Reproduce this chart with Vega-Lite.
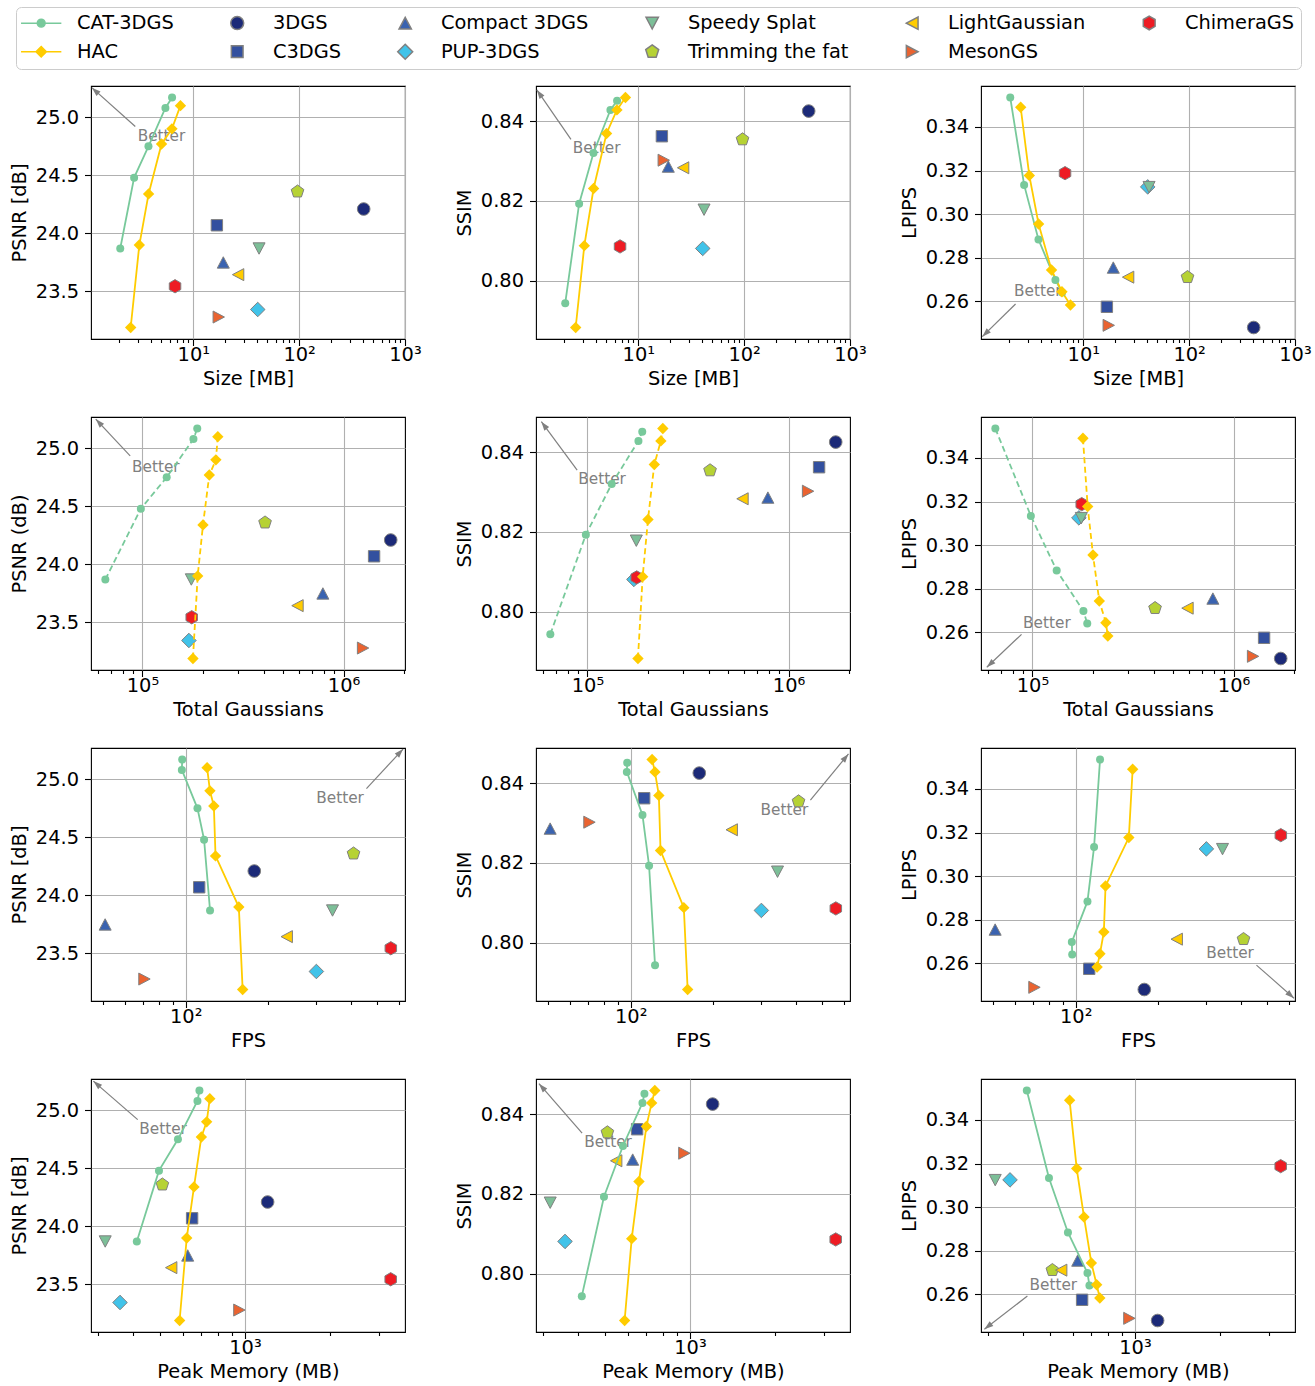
{
"$schema": "https://vega.github.io/schema/vega-lite/v6.json",
"background": "white",
"padding": {"left": 8, "top": 6, "right": 5, "bottom": 2},
"config": {
 "font": "DejaVu Sans",
 "view": {"stroke": "#000000", "strokeWidth": 1.1},
 "axis": {"labelFont": "DejaVu Sans", "labelFontSize": 19.4, "labelColor": "#000000", "titleFont": "DejaVu Sans", "titleFontSize": 19.4, "titleFontWeight": "normal", "titleColor": "#000000", "tickColor": "#000000", "tickWidth": 1.1, "tickSize": 6.5, "labelPadding": 4.9, "domain": false, "grid": true, "gridColor": "#b0b0b0", "gridWidth": 1.1, "labelFlush": false, "labelOverlap": false, "titlePadding": 6},
 "axisX": {"labelPadding": 0},
 "axisY": {"labelPadding": 6}
},
"datasets": {
 "main": [
  {"method": "CAT-3DGS", "k": 1, "size": 2.04, "gs": 65400, "fps": 122.7, "mem": 413, "psnr": 23.87, "ssim": 0.7944, "lpips": 0.3535},
  {"method": "CAT-3DGS", "k": 2, "size": 2.76, "gs": 98200, "fps": 116.7, "mem": 495, "psnr": 24.48, "ssim": 0.8193, "lpips": 0.3134},
  {"method": "CAT-3DGS", "k": 3, "size": 3.77, "gs": 132000, "fps": 110.4, "mem": 578, "psnr": 24.75, "ssim": 0.8320, "lpips": 0.2884},
  {"method": "CAT-3DGS", "k": 4, "size": 5.45, "gs": 179300, "fps": 96.8, "mem": 678, "psnr": 25.08, "ssim": 0.8428, "lpips": 0.2698},
  {"method": "CAT-3DGS", "k": 5, "size": 6.30, "gs": 187300, "fps": 97.1, "mem": 689, "psnr": 25.17, "ssim": 0.8451, "lpips": 0.2641},
  {"method": "HAC", "k": 1, "size": 2.56, "gs": 178300, "fps": 161.4, "mem": 586, "psnr": 23.19, "ssim": 0.7883, "lpips": 0.3490},
  {"method": "HAC", "k": 2, "size": 3.09, "gs": 188200, "fps": 156.3, "mem": 621, "psnr": 23.90, "ssim": 0.8088, "lpips": 0.3177},
  {"method": "HAC", "k": 3, "size": 3.78, "gs": 200000, "fps": 128.5, "mem": 659, "psnr": 24.34, "ssim": 0.8231, "lpips": 0.2955},
  {"method": "HAC", "k": 4, "size": 5.01, "gs": 215000, "fps": 126.7, "mem": 700, "psnr": 24.77, "ssim": 0.8369, "lpips": 0.2744},
  {"method": "HAC", "k": 5, "size": 6.28, "gs": 231800, "fps": 122.6, "mem": 731, "psnr": 24.90, "ssim": 0.8428, "lpips": 0.2644},
  {"method": "HAC", "k": 6, "size": 7.56, "gs": 237000, "fps": 119.7, "mem": 750, "psnr": 25.10, "ssim": 0.8459, "lpips": 0.2583},
  {"method": "3DGS", "size": 407, "gs": 1715000, "fps": 178, "mem": 1203, "psnr": 24.21, "ssim": 0.8425, "lpips": 0.2480},
  {"method": "C3DGS", "size": 16.7, "gs": 1418000, "fps": 112, "mem": 649, "psnr": 24.07, "ssim": 0.8362, "lpips": 0.2575},
  {"method": "Compact 3DGS", "size": 19.2, "gs": 789000, "fps": 50.8, "mem": 626, "psnr": 23.75, "ssim": 0.8286, "lpips": 0.2755},
  {"method": "PUP-3DGS", "size": 40.6, "gs": 170200, "fps": 300, "mem": 360, "psnr": 23.345, "ssim": 0.8081, "lpips": 0.3125},
  {"method": "Speedy Splat", "size": 41.8, "gs": 175000, "fps": 343.6, "mem": 319, "psnr": 23.87, "ssim": 0.8178, "lpips": 0.3124},
  {"method": "Trimming the fat", "size": 96.5, "gs": 407000, "fps": 410, "mem": 509, "psnr": 24.36, "ssim": 0.8354, "lpips": 0.2711},
  {"method": "LightGaussian", "size": 26.5, "gs": 590000, "fps": 233.8, "mem": 547, "psnr": 23.645, "ssim": 0.8283, "lpips": 0.2711},
  {"method": "MesonGS", "size": 17.4, "gs": 1250000, "fps": 70.7, "mem": 955, "psnr": 23.28, "ssim": 0.8302, "lpips": 0.2490},
  {"method": "ChimeraGS", "size": 6.72, "gs": 175800, "fps": 561, "mem": 3290, "psnr": 23.545, "ssim": 0.8086, "lpips": 0.3188}
 ],
 "notes": [
  {"p": "r1c1", "part": "head", "size": 1.1, "psnr": 25.255},
  {"p": "r1c1", "part": "tail", "size": 2.83, "psnr": 24.92},
  {"p": "r1c1", "part": "text", "size": 5.0, "psnr": 24.84, "label": "Better"},
  {"p": "r1c2", "part": "head", "size": 1.1, "ssim": 0.8478},
  {"p": "r1c2", "part": "tail", "size": 2.31, "ssim": 0.8354},
  {"p": "r1c2", "part": "text", "size": 4.04, "ssim": 0.8333, "label": "Better"},
  {"p": "r1c3", "part": "head", "size": 1.11, "lpips": 0.2438},
  {"p": "r1c3", "part": "tail", "size": 2.29, "lpips": 0.2588},
  {"p": "r1c3", "part": "text", "size": 3.72, "lpips": 0.2647, "label": "Better"},
  {"p": "r2c1", "part": "head", "gs": 58600, "psnr": 25.251},
  {"p": "r2c1", "part": "tail", "gs": 86900, "psnr": 24.934},
  {"p": "r2c1", "part": "text", "gs": 116500, "psnr": 24.84, "label": "Better"},
  {"p": "r2c2", "part": "head", "gs": 59000, "ssim": 0.8476},
  {"p": "r2c2", "part": "tail", "gs": 88900, "ssim": 0.8355},
  {"p": "r2c2", "part": "text", "gs": 118200, "ssim": 0.8333, "label": "Better"},
  {"p": "r2c3", "part": "head", "gs": 59300, "lpips": 0.244},
  {"p": "r2c3", "part": "tail", "gs": 88300, "lpips": 0.2591},
  {"p": "r2c3", "part": "text", "gs": 118000, "lpips": 0.2644, "label": "Better"},
  {"p": "r3c1", "part": "head", "fps": 622, "psnr": 25.26},
  {"p": "r3c1", "part": "tail", "fps": 457, "psnr": 24.919},
  {"p": "r3c1", "part": "text", "fps": 366, "psnr": 24.841, "label": "Better"},
  {"p": "r3c2", "part": "head", "fps": 624, "ssim": 0.8473},
  {"p": "r3c2", "part": "tail", "fps": 453, "ssim": 0.8357},
  {"p": "r3c2", "part": "text", "fps": 364, "ssim": 0.8333, "label": "Better"},
  {"p": "r3c3", "part": "head", "fps": 627, "lpips": 0.244},
  {"p": "r3c3", "part": "tail", "fps": 457, "lpips": 0.2592},
  {"p": "r3c3", "part": "text", "fps": 366, "lpips": 0.2646, "label": "Better"},
  {"p": "r4c1", "part": "head", "mem": 289.5, "psnr": 25.251},
  {"p": "r4c1", "part": "tail", "mem": 416, "psnr": 24.919},
  {"p": "r4c1", "part": "text", "mem": 512, "psnr": 24.841, "label": "Better"},
  {"p": "r4c2", "part": "head", "mem": 291, "ssim": 0.8476},
  {"p": "r4c2", "part": "tail", "mem": 414, "ssim": 0.8352},
  {"p": "r4c2", "part": "text", "mem": 512, "ssim": 0.8331, "label": "Better"},
  {"p": "r4c3", "part": "head", "mem": 292, "lpips": 0.244},
  {"p": "r4c3", "part": "tail", "mem": 415, "lpips": 0.2592},
  {"p": "r4c3", "part": "text", "mem": 513, "lpips": 0.2644, "label": "Better"}
 ]
},
"columns": 3,
"spacing": {"row": 78, "column": 131},
"bounds": "flush",
"resolve": {"scale": {"x": "independent", "y": "independent", "color": "shared", "shape": "shared", "stroke": "shared"}},
"concat": [
 {"width": 314, "height": 253,
  "encoding": {
   "x": {"field": "size", "type": "quantitative", "scale": {"type": "log", "domain": [1.08, 1000], "nice": false}, "axis": {"title": "Size [MB]", "values": [2,3,4,5,6,7,8,9,10,20,30,40,50,60,70,80,90,100,200,300,400,500,600,700,800,900,1000], "labelExpr": "datum.value == 10 ? '10¹' : datum.value == 100 ? '10²' : datum.value == 1000 ? '10³' : ''", "tickSize": {"condition": {"test": "abs(log(datum.value)/LN10 - round(log(datum.value)/LN10)) < 0.001", "value": 6.5}, "value": 3.5}, "gridOpacity": {"condition": {"test": "abs(log(datum.value)/LN10 - round(log(datum.value)/LN10)) < 0.001", "value": 1}, "value": 0}}},
   "y": {"field": "psnr", "type": "quantitative", "scale": {"domain": [23.091, 25.269], "nice": false, "zero": false}, "axis": {"values": [23.5, 24, 24.5, 25], "format": ".1f", "title": "PSNR [dB]"}}
  },
  "layer": [
   {"data": {"name": "notes"}, "transform": [{"filter": "datum.p == 'r1c1' && datum.part != 'text'"}], "mark": {"type": "line", "color": "#808080", "strokeWidth": 1.2}, "encoding": {}},
   {"data": {"name": "notes"}, "transform": [{"filter": "datum.p == 'r1c1' && datum.part == 'head'"}], "mark": {"type": "point", "shape": "M0,0L-0.75,2.25L0.75,2.25Z", "size": 64, "filled": true, "color": "#808080", "opacity": 1, "angle": -48}},
   {"data": {"name": "notes"}, "transform": [{"filter": "datum.p == 'r1c1' && datum.part == 'text'"}], "mark": {"type": "text", "font": "DejaVu Sans", "fontSize": 15.3, "color": "#808080"}, "encoding": {"text": {"field": "label"}}},
   {"data": {"name": "main"}, "transform": [{"filter": "datum.method != 'CAT-3DGS' && datum.method != 'HAC'"}], "mark": {"type": "point", "filled": true, "size": 160, "strokeWidth": 1, "opacity": 1},
    "encoding": {
     "color": {"field": "method", "type": "nominal", "scale": {"domain": ["CAT-3DGS","HAC","3DGS","C3DGS","Compact 3DGS","PUP-3DGS","Speedy Splat","Trimming the fat","LightGaussian","MesonGS","ChimeraGS"], "range": ["#78c99b","#ffcc00","#1c2a78","#33509f","#3a63b0","#41c3e9","#7cbf98","#b6d234","#ffcc00","#ea6330","#ee1c24"]},
      "legend": {"title": null, "orient": "none", "legendX": -75, "legendY": -79, "columns": 6, "symbolSize": 169, "symbolOffset": 9.5, "labelOffset": 26, "columnPadding": 44, "rowPadding": 8, "padding": 6, "labelFont": "DejaVu Sans", "labelFontSize": 19.4, "labelColor": "#000000", "labelLimit": 300, "strokeColor": "#cccccc", "cornerRadius": 5, "fillColor": "#ffffff", "encode": {"symbols": {"update": {"strokeWidth": {"signal": "(datum.value == 'CAT-3DGS' || datum.value == 'HAC') ? 2 : 1"}, "opacity": {"value": 1}}}}}},
     "shape": {"field": "method", "type": "nominal", "scale": {"domain": ["CAT-3DGS","HAC","3DGS","C3DGS","Compact 3DGS","PUP-3DGS","Speedy Splat","Trimming the fat","LightGaussian","MesonGS","ChimeraGS"], "range": ["M-3.1,0L3.1,0M-0.6,0A0.6,0.6,0,1,0,0.6,0A0.6,0.6,0,1,0,-0.6,0Z","M-3.1,0L3.1,0M0,-0.8L0.8,0L0,0.8L-0.8,0Z","circle","M-0.9,-0.9L0.9,-0.9L0.9,0.9L-0.9,0.9Z","M0,-0.9L0.95,0.9L-0.95,0.9Z","M0,-1.15L1.15,0L0,1.15L-1.15,0Z","M0,0.9L0.95,-0.9L-0.95,-0.9Z","M0,-1.05L0.999,-0.324L0.617,0.849L-0.617,0.849L-0.999,-0.324Z","M-0.9,0L0.9,-0.95L0.9,0.95Z","M0.9,0L-0.9,-0.95L-0.9,0.95Z","M0,-1.05L0.909,-0.525L0.909,0.525L0,1.05L-0.909,0.525L-0.909,-0.525Z"]}, "legend": {"title": null}},
     "stroke": {"field": "method", "type": "nominal", "scale": {"domain": ["CAT-3DGS","HAC","3DGS","C3DGS","Compact 3DGS","PUP-3DGS","Speedy Splat","Trimming the fat","LightGaussian","MesonGS","ChimeraGS"], "range": ["#78c99b","#ffcc00","#808080","#808080","#808080","#808080","#808080","#808080","#808080","#808080","#808080"]}, "legend": {"title": null}}
    }},
   {"data": {"name": "main"}, "transform": [{"filter": "datum.method == 'CAT-3DGS'"}], "mark": {"type": "line", "color": "#78c99b", "strokeWidth": 1.8}, "encoding": {"order": {"field": "k", "type": "quantitative"}}},
   {"data": {"name": "main"}, "transform": [{"filter": "datum.method == 'HAC'"}], "mark": {"type": "line", "color": "#ffcc00", "strokeWidth": 1.8}, "encoding": {"order": {"field": "k", "type": "quantitative"}}},
   {"data": {"name": "main"}, "transform": [{"filter": "datum.method == 'CAT-3DGS'"}], "mark": {"type": "point", "shape": "circle", "filled": true, "size": 64, "color": "#78c99b", "opacity": 1}},
   {"data": {"name": "main"}, "transform": [{"filter": "datum.method == 'HAC'"}], "mark": {"type": "point", "shape": "diamond", "filled": true, "size": 130, "color": "#ffcc00", "opacity": 1}}
  ]},
 {"width": 314, "height": 253,
  "encoding": {
   "x": {"field": "size", "type": "quantitative", "scale": {"type": "log", "domain": [1.08, 1000], "nice": false}, "axis": {"title": "Size [MB]", "values": [2,3,4,5,6,7,8,9,10,20,30,40,50,60,70,80,90,100,200,300,400,500,600,700,800,900,1000], "labelExpr": "datum.value == 10 ? '10¹' : datum.value == 100 ? '10²' : datum.value == 1000 ? '10³' : ''", "tickSize": {"condition": {"test": "abs(log(datum.value)/LN10 - round(log(datum.value)/LN10)) < 0.001", "value": 6.5}, "value": 3.5}, "gridOpacity": {"condition": {"test": "abs(log(datum.value)/LN10 - round(log(datum.value)/LN10)) < 0.001", "value": 1}, "value": 0}}},
   "y": {"field": "ssim", "type": "quantitative", "scale": {"domain": [0.78542, 0.84878], "nice": false, "zero": false}, "axis": {"values": [0.80, 0.82, 0.84], "format": ".2f", "title": "SSIM"}}
  },
  "layer": [
   {"data": {"name": "notes"}, "transform": [{"filter": "datum.p == 'r1c2' && datum.part != 'text'"}], "mark": {"type": "line", "color": "#808080", "strokeWidth": 1.2}, "encoding": {}},
   {"data": {"name": "notes"}, "transform": [{"filter": "datum.p == 'r1c2' && datum.part == 'head'"}], "mark": {"type": "point", "shape": "M0,0L-0.75,2.25L0.75,2.25Z", "size": 64, "filled": true, "color": "#808080", "opacity": 1, "angle": -35}},
   {"data": {"name": "notes"}, "transform": [{"filter": "datum.p == 'r1c2' && datum.part == 'text'"}], "mark": {"type": "text", "font": "DejaVu Sans", "fontSize": 15.3, "color": "#808080"}, "encoding": {"text": {"field": "label"}}},
   {"data": {"name": "main"}, "transform": [{"filter": "datum.method != 'CAT-3DGS' && datum.method != 'HAC'"}], "mark": {"type": "point", "filled": true, "size": 160, "strokeWidth": 1, "opacity": 1},
    "encoding": {
     "color": {"field": "method", "type": "nominal", "scale": {"domain": ["CAT-3DGS","HAC","3DGS","C3DGS","Compact 3DGS","PUP-3DGS","Speedy Splat","Trimming the fat","LightGaussian","MesonGS","ChimeraGS"], "range": ["#78c99b","#ffcc00","#1c2a78","#33509f","#3a63b0","#41c3e9","#7cbf98","#b6d234","#ffcc00","#ea6330","#ee1c24"]},
      "legend": {"title": null, "orient": "none", "legendX": -75, "legendY": -79, "columns": 6, "symbolSize": 169, "symbolOffset": 9.5, "labelOffset": 26, "columnPadding": 44, "rowPadding": 8, "padding": 6, "labelFont": "DejaVu Sans", "labelFontSize": 19.4, "labelColor": "#000000", "labelLimit": 300, "strokeColor": "#cccccc", "cornerRadius": 5, "fillColor": "#ffffff", "encode": {"symbols": {"update": {"strokeWidth": {"signal": "(datum.value == 'CAT-3DGS' || datum.value == 'HAC') ? 2 : 1"}, "opacity": {"value": 1}}}}}},
     "shape": {"field": "method", "type": "nominal", "scale": {"domain": ["CAT-3DGS","HAC","3DGS","C3DGS","Compact 3DGS","PUP-3DGS","Speedy Splat","Trimming the fat","LightGaussian","MesonGS","ChimeraGS"], "range": ["M-3.1,0L3.1,0M-0.6,0A0.6,0.6,0,1,0,0.6,0A0.6,0.6,0,1,0,-0.6,0Z","M-3.1,0L3.1,0M0,-0.8L0.8,0L0,0.8L-0.8,0Z","circle","M-0.9,-0.9L0.9,-0.9L0.9,0.9L-0.9,0.9Z","M0,-0.9L0.95,0.9L-0.95,0.9Z","M0,-1.15L1.15,0L0,1.15L-1.15,0Z","M0,0.9L0.95,-0.9L-0.95,-0.9Z","M0,-1.05L0.999,-0.324L0.617,0.849L-0.617,0.849L-0.999,-0.324Z","M-0.9,0L0.9,-0.95L0.9,0.95Z","M0.9,0L-0.9,-0.95L-0.9,0.95Z","M0,-1.05L0.909,-0.525L0.909,0.525L0,1.05L-0.909,0.525L-0.909,-0.525Z"]}, "legend": {"title": null}},
     "stroke": {"field": "method", "type": "nominal", "scale": {"domain": ["CAT-3DGS","HAC","3DGS","C3DGS","Compact 3DGS","PUP-3DGS","Speedy Splat","Trimming the fat","LightGaussian","MesonGS","ChimeraGS"], "range": ["#78c99b","#ffcc00","#808080","#808080","#808080","#808080","#808080","#808080","#808080","#808080","#808080"]}, "legend": {"title": null}}
    }},
   {"data": {"name": "main"}, "transform": [{"filter": "datum.method == 'CAT-3DGS'"}], "mark": {"type": "line", "color": "#78c99b", "strokeWidth": 1.8}, "encoding": {"order": {"field": "k", "type": "quantitative"}}},
   {"data": {"name": "main"}, "transform": [{"filter": "datum.method == 'HAC'"}], "mark": {"type": "line", "color": "#ffcc00", "strokeWidth": 1.8}, "encoding": {"order": {"field": "k", "type": "quantitative"}}},
   {"data": {"name": "main"}, "transform": [{"filter": "datum.method == 'CAT-3DGS'"}], "mark": {"type": "point", "shape": "circle", "filled": true, "size": 64, "color": "#78c99b", "opacity": 1}},
   {"data": {"name": "main"}, "transform": [{"filter": "datum.method == 'HAC'"}], "mark": {"type": "point", "shape": "diamond", "filled": true, "size": 130, "color": "#ffcc00", "opacity": 1}}
  ]},
 {"width": 314, "height": 253,
  "encoding": {
   "x": {"field": "size", "type": "quantitative", "scale": {"type": "log", "domain": [1.08, 1000], "nice": false}, "axis": {"title": "Size [MB]", "values": [2,3,4,5,6,7,8,9,10,20,30,40,50,60,70,80,90,100,200,300,400,500,600,700,800,900,1000], "labelExpr": "datum.value == 10 ? '10¹' : datum.value == 100 ? '10²' : datum.value == 1000 ? '10³' : ''", "tickSize": {"condition": {"test": "abs(log(datum.value)/LN10 - round(log(datum.value)/LN10)) < 0.001", "value": 6.5}, "value": 3.5}, "gridOpacity": {"condition": {"test": "abs(log(datum.value)/LN10 - round(log(datum.value)/LN10)) < 0.001", "value": 1}, "value": 0}}},
   "y": {"field": "lpips", "type": "quantitative", "scale": {"domain": [0.24273, 0.35878], "nice": false, "zero": false}, "axis": {"values": [0.26, 0.28, 0.30, 0.32, 0.34], "format": ".2f", "title": "LPIPS"}}
  },
  "layer": [
   {"data": {"name": "notes"}, "transform": [{"filter": "datum.p == 'r1c3' && datum.part != 'text'"}], "mark": {"type": "line", "color": "#808080", "strokeWidth": 1.2}, "encoding": {}},
   {"data": {"name": "notes"}, "transform": [{"filter": "datum.p == 'r1c3' && datum.part == 'head'"}], "mark": {"type": "point", "shape": "M0,0L-0.75,2.25L0.75,2.25Z", "size": 64, "filled": true, "color": "#808080", "opacity": 1, "angle": 226}},
   {"data": {"name": "notes"}, "transform": [{"filter": "datum.p == 'r1c3' && datum.part == 'text'"}], "mark": {"type": "text", "font": "DejaVu Sans", "fontSize": 15.3, "color": "#808080"}, "encoding": {"text": {"field": "label"}}},
   {"data": {"name": "main"}, "transform": [{"filter": "datum.method != 'CAT-3DGS' && datum.method != 'HAC'"}], "mark": {"type": "point", "filled": true, "size": 160, "strokeWidth": 1, "opacity": 1},
    "encoding": {
     "color": {"field": "method", "type": "nominal", "scale": {"domain": ["CAT-3DGS","HAC","3DGS","C3DGS","Compact 3DGS","PUP-3DGS","Speedy Splat","Trimming the fat","LightGaussian","MesonGS","ChimeraGS"], "range": ["#78c99b","#ffcc00","#1c2a78","#33509f","#3a63b0","#41c3e9","#7cbf98","#b6d234","#ffcc00","#ea6330","#ee1c24"]},
      "legend": {"title": null, "orient": "none", "legendX": -75, "legendY": -79, "columns": 6, "symbolSize": 169, "symbolOffset": 9.5, "labelOffset": 26, "columnPadding": 44, "rowPadding": 8, "padding": 6, "labelFont": "DejaVu Sans", "labelFontSize": 19.4, "labelColor": "#000000", "labelLimit": 300, "strokeColor": "#cccccc", "cornerRadius": 5, "fillColor": "#ffffff", "encode": {"symbols": {"update": {"strokeWidth": {"signal": "(datum.value == 'CAT-3DGS' || datum.value == 'HAC') ? 2 : 1"}, "opacity": {"value": 1}}}}}},
     "shape": {"field": "method", "type": "nominal", "scale": {"domain": ["CAT-3DGS","HAC","3DGS","C3DGS","Compact 3DGS","PUP-3DGS","Speedy Splat","Trimming the fat","LightGaussian","MesonGS","ChimeraGS"], "range": ["M-3.1,0L3.1,0M-0.6,0A0.6,0.6,0,1,0,0.6,0A0.6,0.6,0,1,0,-0.6,0Z","M-3.1,0L3.1,0M0,-0.8L0.8,0L0,0.8L-0.8,0Z","circle","M-0.9,-0.9L0.9,-0.9L0.9,0.9L-0.9,0.9Z","M0,-0.9L0.95,0.9L-0.95,0.9Z","M0,-1.15L1.15,0L0,1.15L-1.15,0Z","M0,0.9L0.95,-0.9L-0.95,-0.9Z","M0,-1.05L0.999,-0.324L0.617,0.849L-0.617,0.849L-0.999,-0.324Z","M-0.9,0L0.9,-0.95L0.9,0.95Z","M0.9,0L-0.9,-0.95L-0.9,0.95Z","M0,-1.05L0.909,-0.525L0.909,0.525L0,1.05L-0.909,0.525L-0.909,-0.525Z"]}, "legend": {"title": null}},
     "stroke": {"field": "method", "type": "nominal", "scale": {"domain": ["CAT-3DGS","HAC","3DGS","C3DGS","Compact 3DGS","PUP-3DGS","Speedy Splat","Trimming the fat","LightGaussian","MesonGS","ChimeraGS"], "range": ["#78c99b","#ffcc00","#808080","#808080","#808080","#808080","#808080","#808080","#808080","#808080","#808080"]}, "legend": {"title": null}}
    }},
   {"data": {"name": "main"}, "transform": [{"filter": "datum.method == 'CAT-3DGS'"}], "mark": {"type": "line", "color": "#78c99b", "strokeWidth": 1.8}, "encoding": {"order": {"field": "k", "type": "quantitative"}}},
   {"data": {"name": "main"}, "transform": [{"filter": "datum.method == 'HAC'"}], "mark": {"type": "line", "color": "#ffcc00", "strokeWidth": 1.8}, "encoding": {"order": {"field": "k", "type": "quantitative"}}},
   {"data": {"name": "main"}, "transform": [{"filter": "datum.method == 'CAT-3DGS'"}], "mark": {"type": "point", "shape": "circle", "filled": true, "size": 64, "color": "#78c99b", "opacity": 1}},
   {"data": {"name": "main"}, "transform": [{"filter": "datum.method == 'HAC'"}], "mark": {"type": "point", "shape": "diamond", "filled": true, "size": 130, "color": "#ffcc00", "opacity": 1}}
  ]},
 {"width": 314, "height": 253,
  "encoding": {
   "x": {"field": "gs", "type": "quantitative", "scale": {"type": "log", "domain": [55500, 2020000], "nice": false}, "axis": {"title": "Total Gaussians", "values": [60000,70000,80000,90000,100000,200000,300000,400000,500000,600000,700000,800000,900000,1000000,2000000], "labelExpr": "datum.value == 100000 ? '10⁵' : datum.value == 1000000 ? '10⁶' : ''", "tickSize": {"condition": {"test": "abs(log(datum.value)/LN10 - round(log(datum.value)/LN10)) < 0.001", "value": 6.5}, "value": 3.5}, "gridOpacity": {"condition": {"test": "abs(log(datum.value)/LN10 - round(log(datum.value)/LN10)) < 0.001", "value": 1}, "value": 0}}},
   "y": {"field": "psnr", "type": "quantitative", "scale": {"domain": [23.091, 25.269], "nice": false, "zero": false}, "axis": {"values": [23.5, 24, 24.5, 25], "format": ".1f", "title": "PSNR (dB)"}}
  },
  "layer": [
   {"data": {"name": "notes"}, "transform": [{"filter": "datum.p == 'r2c1' && datum.part != 'text'"}], "mark": {"type": "line", "color": "#808080", "strokeWidth": 1.2}, "encoding": {}},
   {"data": {"name": "notes"}, "transform": [{"filter": "datum.p == 'r2c1' && datum.part == 'head'"}], "mark": {"type": "point", "shape": "M0,0L-0.75,2.25L0.75,2.25Z", "size": 64, "filled": true, "color": "#808080", "opacity": 1, "angle": -43}},
   {"data": {"name": "notes"}, "transform": [{"filter": "datum.p == 'r2c1' && datum.part == 'text'"}], "mark": {"type": "text", "font": "DejaVu Sans", "fontSize": 15.3, "color": "#808080"}, "encoding": {"text": {"field": "label"}}},
   {"data": {"name": "main"}, "transform": [{"filter": "datum.method != 'CAT-3DGS' && datum.method != 'HAC'"}], "mark": {"type": "point", "filled": true, "size": 160, "strokeWidth": 1, "opacity": 1},
    "encoding": {
     "color": {"field": "method", "type": "nominal", "scale": {"domain": ["CAT-3DGS","HAC","3DGS","C3DGS","Compact 3DGS","PUP-3DGS","Speedy Splat","Trimming the fat","LightGaussian","MesonGS","ChimeraGS"], "range": ["#78c99b","#ffcc00","#1c2a78","#33509f","#3a63b0","#41c3e9","#7cbf98","#b6d234","#ffcc00","#ea6330","#ee1c24"]},
      "legend": {"title": null, "orient": "none", "legendX": -75, "legendY": -79, "columns": 6, "symbolSize": 169, "symbolOffset": 9.5, "labelOffset": 26, "columnPadding": 44, "rowPadding": 8, "padding": 6, "labelFont": "DejaVu Sans", "labelFontSize": 19.4, "labelColor": "#000000", "labelLimit": 300, "strokeColor": "#cccccc", "cornerRadius": 5, "fillColor": "#ffffff", "encode": {"symbols": {"update": {"strokeWidth": {"signal": "(datum.value == 'CAT-3DGS' || datum.value == 'HAC') ? 2 : 1"}, "opacity": {"value": 1}}}}}},
     "shape": {"field": "method", "type": "nominal", "scale": {"domain": ["CAT-3DGS","HAC","3DGS","C3DGS","Compact 3DGS","PUP-3DGS","Speedy Splat","Trimming the fat","LightGaussian","MesonGS","ChimeraGS"], "range": ["M-3.1,0L3.1,0M-0.6,0A0.6,0.6,0,1,0,0.6,0A0.6,0.6,0,1,0,-0.6,0Z","M-3.1,0L3.1,0M0,-0.8L0.8,0L0,0.8L-0.8,0Z","circle","M-0.9,-0.9L0.9,-0.9L0.9,0.9L-0.9,0.9Z","M0,-0.9L0.95,0.9L-0.95,0.9Z","M0,-1.15L1.15,0L0,1.15L-1.15,0Z","M0,0.9L0.95,-0.9L-0.95,-0.9Z","M0,-1.05L0.999,-0.324L0.617,0.849L-0.617,0.849L-0.999,-0.324Z","M-0.9,0L0.9,-0.95L0.9,0.95Z","M0.9,0L-0.9,-0.95L-0.9,0.95Z","M0,-1.05L0.909,-0.525L0.909,0.525L0,1.05L-0.909,0.525L-0.909,-0.525Z"]}, "legend": {"title": null}},
     "stroke": {"field": "method", "type": "nominal", "scale": {"domain": ["CAT-3DGS","HAC","3DGS","C3DGS","Compact 3DGS","PUP-3DGS","Speedy Splat","Trimming the fat","LightGaussian","MesonGS","ChimeraGS"], "range": ["#78c99b","#ffcc00","#808080","#808080","#808080","#808080","#808080","#808080","#808080","#808080","#808080"]}, "legend": {"title": null}}
    }},
   {"data": {"name": "main"}, "transform": [{"filter": "datum.method == 'CAT-3DGS'"}], "mark": {"type": "line", "color": "#78c99b", "strokeWidth": 1.8, "strokeDash": [6, 3.5]}, "encoding": {"order": {"field": "k", "type": "quantitative"}}},
   {"data": {"name": "main"}, "transform": [{"filter": "datum.method == 'HAC'"}], "mark": {"type": "line", "color": "#ffcc00", "strokeWidth": 1.8, "strokeDash": [6, 3.5]}, "encoding": {"order": {"field": "k", "type": "quantitative"}}},
   {"data": {"name": "main"}, "transform": [{"filter": "datum.method == 'CAT-3DGS'"}], "mark": {"type": "point", "shape": "circle", "filled": true, "size": 64, "color": "#78c99b", "opacity": 1}},
   {"data": {"name": "main"}, "transform": [{"filter": "datum.method == 'HAC'"}], "mark": {"type": "point", "shape": "diamond", "filled": true, "size": 130, "color": "#ffcc00", "opacity": 1}}
  ]},
 {"width": 314, "height": 253,
  "encoding": {
   "x": {"field": "gs", "type": "quantitative", "scale": {"type": "log", "domain": [55500, 2020000], "nice": false}, "axis": {"title": "Total Gaussians", "values": [60000,70000,80000,90000,100000,200000,300000,400000,500000,600000,700000,800000,900000,1000000,2000000], "labelExpr": "datum.value == 100000 ? '10⁵' : datum.value == 1000000 ? '10⁶' : ''", "tickSize": {"condition": {"test": "abs(log(datum.value)/LN10 - round(log(datum.value)/LN10)) < 0.001", "value": 6.5}, "value": 3.5}, "gridOpacity": {"condition": {"test": "abs(log(datum.value)/LN10 - round(log(datum.value)/LN10)) < 0.001", "value": 1}, "value": 0}}},
   "y": {"field": "ssim", "type": "quantitative", "scale": {"domain": [0.78542, 0.84878], "nice": false, "zero": false}, "axis": {"values": [0.80, 0.82, 0.84], "format": ".2f", "title": "SSIM"}}
  },
  "layer": [
   {"data": {"name": "notes"}, "transform": [{"filter": "datum.p == 'r2c2' && datum.part != 'text'"}], "mark": {"type": "line", "color": "#808080", "strokeWidth": 1.2}, "encoding": {}},
   {"data": {"name": "notes"}, "transform": [{"filter": "datum.p == 'r2c2' && datum.part == 'head'"}], "mark": {"type": "point", "shape": "M0,0L-0.75,2.25L0.75,2.25Z", "size": 64, "filled": true, "color": "#808080", "opacity": 1, "angle": -37}},
   {"data": {"name": "notes"}, "transform": [{"filter": "datum.p == 'r2c2' && datum.part == 'text'"}], "mark": {"type": "text", "font": "DejaVu Sans", "fontSize": 15.3, "color": "#808080"}, "encoding": {"text": {"field": "label"}}},
   {"data": {"name": "main"}, "transform": [{"filter": "datum.method != 'CAT-3DGS' && datum.method != 'HAC'"}], "mark": {"type": "point", "filled": true, "size": 160, "strokeWidth": 1, "opacity": 1},
    "encoding": {
     "color": {"field": "method", "type": "nominal", "scale": {"domain": ["CAT-3DGS","HAC","3DGS","C3DGS","Compact 3DGS","PUP-3DGS","Speedy Splat","Trimming the fat","LightGaussian","MesonGS","ChimeraGS"], "range": ["#78c99b","#ffcc00","#1c2a78","#33509f","#3a63b0","#41c3e9","#7cbf98","#b6d234","#ffcc00","#ea6330","#ee1c24"]},
      "legend": {"title": null, "orient": "none", "legendX": -75, "legendY": -79, "columns": 6, "symbolSize": 169, "symbolOffset": 9.5, "labelOffset": 26, "columnPadding": 44, "rowPadding": 8, "padding": 6, "labelFont": "DejaVu Sans", "labelFontSize": 19.4, "labelColor": "#000000", "labelLimit": 300, "strokeColor": "#cccccc", "cornerRadius": 5, "fillColor": "#ffffff", "encode": {"symbols": {"update": {"strokeWidth": {"signal": "(datum.value == 'CAT-3DGS' || datum.value == 'HAC') ? 2 : 1"}, "opacity": {"value": 1}}}}}},
     "shape": {"field": "method", "type": "nominal", "scale": {"domain": ["CAT-3DGS","HAC","3DGS","C3DGS","Compact 3DGS","PUP-3DGS","Speedy Splat","Trimming the fat","LightGaussian","MesonGS","ChimeraGS"], "range": ["M-3.1,0L3.1,0M-0.6,0A0.6,0.6,0,1,0,0.6,0A0.6,0.6,0,1,0,-0.6,0Z","M-3.1,0L3.1,0M0,-0.8L0.8,0L0,0.8L-0.8,0Z","circle","M-0.9,-0.9L0.9,-0.9L0.9,0.9L-0.9,0.9Z","M0,-0.9L0.95,0.9L-0.95,0.9Z","M0,-1.15L1.15,0L0,1.15L-1.15,0Z","M0,0.9L0.95,-0.9L-0.95,-0.9Z","M0,-1.05L0.999,-0.324L0.617,0.849L-0.617,0.849L-0.999,-0.324Z","M-0.9,0L0.9,-0.95L0.9,0.95Z","M0.9,0L-0.9,-0.95L-0.9,0.95Z","M0,-1.05L0.909,-0.525L0.909,0.525L0,1.05L-0.909,0.525L-0.909,-0.525Z"]}, "legend": {"title": null}},
     "stroke": {"field": "method", "type": "nominal", "scale": {"domain": ["CAT-3DGS","HAC","3DGS","C3DGS","Compact 3DGS","PUP-3DGS","Speedy Splat","Trimming the fat","LightGaussian","MesonGS","ChimeraGS"], "range": ["#78c99b","#ffcc00","#808080","#808080","#808080","#808080","#808080","#808080","#808080","#808080","#808080"]}, "legend": {"title": null}}
    }},
   {"data": {"name": "main"}, "transform": [{"filter": "datum.method == 'CAT-3DGS'"}], "mark": {"type": "line", "color": "#78c99b", "strokeWidth": 1.8, "strokeDash": [6, 3.5]}, "encoding": {"order": {"field": "k", "type": "quantitative"}}},
   {"data": {"name": "main"}, "transform": [{"filter": "datum.method == 'HAC'"}], "mark": {"type": "line", "color": "#ffcc00", "strokeWidth": 1.8, "strokeDash": [6, 3.5]}, "encoding": {"order": {"field": "k", "type": "quantitative"}}},
   {"data": {"name": "main"}, "transform": [{"filter": "datum.method == 'CAT-3DGS'"}], "mark": {"type": "point", "shape": "circle", "filled": true, "size": 64, "color": "#78c99b", "opacity": 1}},
   {"data": {"name": "main"}, "transform": [{"filter": "datum.method == 'HAC'"}], "mark": {"type": "point", "shape": "diamond", "filled": true, "size": 130, "color": "#ffcc00", "opacity": 1}}
  ]},
 {"width": 314, "height": 253,
  "encoding": {
   "x": {"field": "gs", "type": "quantitative", "scale": {"type": "log", "domain": [55500, 2020000], "nice": false}, "axis": {"title": "Total Gaussians", "values": [60000,70000,80000,90000,100000,200000,300000,400000,500000,600000,700000,800000,900000,1000000,2000000], "labelExpr": "datum.value == 100000 ? '10⁵' : datum.value == 1000000 ? '10⁶' : ''", "tickSize": {"condition": {"test": "abs(log(datum.value)/LN10 - round(log(datum.value)/LN10)) < 0.001", "value": 6.5}, "value": 3.5}, "gridOpacity": {"condition": {"test": "abs(log(datum.value)/LN10 - round(log(datum.value)/LN10)) < 0.001", "value": 1}, "value": 0}}},
   "y": {"field": "lpips", "type": "quantitative", "scale": {"domain": [0.24273, 0.35878], "nice": false, "zero": false}, "axis": {"values": [0.26, 0.28, 0.30, 0.32, 0.34], "format": ".2f", "title": "LPIPS"}}
  },
  "layer": [
   {"data": {"name": "notes"}, "transform": [{"filter": "datum.p == 'r2c3' && datum.part != 'text'"}], "mark": {"type": "line", "color": "#808080", "strokeWidth": 1.2}, "encoding": {}},
   {"data": {"name": "notes"}, "transform": [{"filter": "datum.p == 'r2c3' && datum.part == 'head'"}], "mark": {"type": "point", "shape": "M0,0L-0.75,2.25L0.75,2.25Z", "size": 64, "filled": true, "color": "#808080", "opacity": 1, "angle": 227}},
   {"data": {"name": "notes"}, "transform": [{"filter": "datum.p == 'r2c3' && datum.part == 'text'"}], "mark": {"type": "text", "font": "DejaVu Sans", "fontSize": 15.3, "color": "#808080"}, "encoding": {"text": {"field": "label"}}},
   {"data": {"name": "main"}, "transform": [{"filter": "datum.method != 'CAT-3DGS' && datum.method != 'HAC'"}], "mark": {"type": "point", "filled": true, "size": 160, "strokeWidth": 1, "opacity": 1},
    "encoding": {
     "color": {"field": "method", "type": "nominal", "scale": {"domain": ["CAT-3DGS","HAC","3DGS","C3DGS","Compact 3DGS","PUP-3DGS","Speedy Splat","Trimming the fat","LightGaussian","MesonGS","ChimeraGS"], "range": ["#78c99b","#ffcc00","#1c2a78","#33509f","#3a63b0","#41c3e9","#7cbf98","#b6d234","#ffcc00","#ea6330","#ee1c24"]},
      "legend": {"title": null, "orient": "none", "legendX": -75, "legendY": -79, "columns": 6, "symbolSize": 169, "symbolOffset": 9.5, "labelOffset": 26, "columnPadding": 44, "rowPadding": 8, "padding": 6, "labelFont": "DejaVu Sans", "labelFontSize": 19.4, "labelColor": "#000000", "labelLimit": 300, "strokeColor": "#cccccc", "cornerRadius": 5, "fillColor": "#ffffff", "encode": {"symbols": {"update": {"strokeWidth": {"signal": "(datum.value == 'CAT-3DGS' || datum.value == 'HAC') ? 2 : 1"}, "opacity": {"value": 1}}}}}},
     "shape": {"field": "method", "type": "nominal", "scale": {"domain": ["CAT-3DGS","HAC","3DGS","C3DGS","Compact 3DGS","PUP-3DGS","Speedy Splat","Trimming the fat","LightGaussian","MesonGS","ChimeraGS"], "range": ["M-3.1,0L3.1,0M-0.6,0A0.6,0.6,0,1,0,0.6,0A0.6,0.6,0,1,0,-0.6,0Z","M-3.1,0L3.1,0M0,-0.8L0.8,0L0,0.8L-0.8,0Z","circle","M-0.9,-0.9L0.9,-0.9L0.9,0.9L-0.9,0.9Z","M0,-0.9L0.95,0.9L-0.95,0.9Z","M0,-1.15L1.15,0L0,1.15L-1.15,0Z","M0,0.9L0.95,-0.9L-0.95,-0.9Z","M0,-1.05L0.999,-0.324L0.617,0.849L-0.617,0.849L-0.999,-0.324Z","M-0.9,0L0.9,-0.95L0.9,0.95Z","M0.9,0L-0.9,-0.95L-0.9,0.95Z","M0,-1.05L0.909,-0.525L0.909,0.525L0,1.05L-0.909,0.525L-0.909,-0.525Z"]}, "legend": {"title": null}},
     "stroke": {"field": "method", "type": "nominal", "scale": {"domain": ["CAT-3DGS","HAC","3DGS","C3DGS","Compact 3DGS","PUP-3DGS","Speedy Splat","Trimming the fat","LightGaussian","MesonGS","ChimeraGS"], "range": ["#78c99b","#ffcc00","#808080","#808080","#808080","#808080","#808080","#808080","#808080","#808080","#808080"]}, "legend": {"title": null}}
    }},
   {"data": {"name": "main"}, "transform": [{"filter": "datum.method == 'CAT-3DGS'"}], "mark": {"type": "line", "color": "#78c99b", "strokeWidth": 1.8, "strokeDash": [6, 3.5]}, "encoding": {"order": {"field": "k", "type": "quantitative"}}},
   {"data": {"name": "main"}, "transform": [{"filter": "datum.method == 'HAC'"}], "mark": {"type": "line", "color": "#ffcc00", "strokeWidth": 1.8, "strokeDash": [6, 3.5]}, "encoding": {"order": {"field": "k", "type": "quantitative"}}},
   {"data": {"name": "main"}, "transform": [{"filter": "datum.method == 'CAT-3DGS'"}], "mark": {"type": "point", "shape": "circle", "filled": true, "size": 64, "color": "#78c99b", "opacity": 1}},
   {"data": {"name": "main"}, "transform": [{"filter": "datum.method == 'HAC'"}], "mark": {"type": "point", "shape": "diamond", "filled": true, "size": 130, "color": "#ffcc00", "opacity": 1}}
  ]},
 {"width": 314, "height": 253,
  "encoding": {
   "x": {"field": "fps", "type": "quantitative", "scale": {"type": "log", "domain": [45.1, 632], "nice": false}, "axis": {"title": "FPS", "values": [50,60,70,80,90,100,200,300,400,500,600], "labelExpr": "datum.value == 100 ? '10²' : ''", "tickSize": {"condition": {"test": "abs(log(datum.value)/LN10 - round(log(datum.value)/LN10)) < 0.001", "value": 6.5}, "value": 3.5}, "gridOpacity": {"condition": {"test": "abs(log(datum.value)/LN10 - round(log(datum.value)/LN10)) < 0.001", "value": 1}, "value": 0}}},
   "y": {"field": "psnr", "type": "quantitative", "scale": {"domain": [23.091, 25.269], "nice": false, "zero": false}, "axis": {"values": [23.5, 24, 24.5, 25], "format": ".1f", "title": "PSNR [dB]"}}
  },
  "layer": [
   {"data": {"name": "notes"}, "transform": [{"filter": "datum.p == 'r3c1' && datum.part != 'text'"}], "mark": {"type": "line", "color": "#808080", "strokeWidth": 1.2}, "encoding": {}},
   {"data": {"name": "notes"}, "transform": [{"filter": "datum.p == 'r3c1' && datum.part == 'head'"}], "mark": {"type": "point", "shape": "M0,0L-0.75,2.25L0.75,2.25Z", "size": 64, "filled": true, "color": "#808080", "opacity": 1, "angle": 43}},
   {"data": {"name": "notes"}, "transform": [{"filter": "datum.p == 'r3c1' && datum.part == 'text'"}], "mark": {"type": "text", "font": "DejaVu Sans", "fontSize": 15.3, "color": "#808080"}, "encoding": {"text": {"field": "label"}}},
   {"data": {"name": "main"}, "transform": [{"filter": "datum.method != 'CAT-3DGS' && datum.method != 'HAC'"}], "mark": {"type": "point", "filled": true, "size": 160, "strokeWidth": 1, "opacity": 1},
    "encoding": {
     "color": {"field": "method", "type": "nominal", "scale": {"domain": ["CAT-3DGS","HAC","3DGS","C3DGS","Compact 3DGS","PUP-3DGS","Speedy Splat","Trimming the fat","LightGaussian","MesonGS","ChimeraGS"], "range": ["#78c99b","#ffcc00","#1c2a78","#33509f","#3a63b0","#41c3e9","#7cbf98","#b6d234","#ffcc00","#ea6330","#ee1c24"]},
      "legend": {"title": null, "orient": "none", "legendX": -75, "legendY": -79, "columns": 6, "symbolSize": 169, "symbolOffset": 9.5, "labelOffset": 26, "columnPadding": 44, "rowPadding": 8, "padding": 6, "labelFont": "DejaVu Sans", "labelFontSize": 19.4, "labelColor": "#000000", "labelLimit": 300, "strokeColor": "#cccccc", "cornerRadius": 5, "fillColor": "#ffffff", "encode": {"symbols": {"update": {"strokeWidth": {"signal": "(datum.value == 'CAT-3DGS' || datum.value == 'HAC') ? 2 : 1"}, "opacity": {"value": 1}}}}}},
     "shape": {"field": "method", "type": "nominal", "scale": {"domain": ["CAT-3DGS","HAC","3DGS","C3DGS","Compact 3DGS","PUP-3DGS","Speedy Splat","Trimming the fat","LightGaussian","MesonGS","ChimeraGS"], "range": ["M-3.1,0L3.1,0M-0.6,0A0.6,0.6,0,1,0,0.6,0A0.6,0.6,0,1,0,-0.6,0Z","M-3.1,0L3.1,0M0,-0.8L0.8,0L0,0.8L-0.8,0Z","circle","M-0.9,-0.9L0.9,-0.9L0.9,0.9L-0.9,0.9Z","M0,-0.9L0.95,0.9L-0.95,0.9Z","M0,-1.15L1.15,0L0,1.15L-1.15,0Z","M0,0.9L0.95,-0.9L-0.95,-0.9Z","M0,-1.05L0.999,-0.324L0.617,0.849L-0.617,0.849L-0.999,-0.324Z","M-0.9,0L0.9,-0.95L0.9,0.95Z","M0.9,0L-0.9,-0.95L-0.9,0.95Z","M0,-1.05L0.909,-0.525L0.909,0.525L0,1.05L-0.909,0.525L-0.909,-0.525Z"]}, "legend": {"title": null}},
     "stroke": {"field": "method", "type": "nominal", "scale": {"domain": ["CAT-3DGS","HAC","3DGS","C3DGS","Compact 3DGS","PUP-3DGS","Speedy Splat","Trimming the fat","LightGaussian","MesonGS","ChimeraGS"], "range": ["#78c99b","#ffcc00","#808080","#808080","#808080","#808080","#808080","#808080","#808080","#808080","#808080"]}, "legend": {"title": null}}
    }},
   {"data": {"name": "main"}, "transform": [{"filter": "datum.method == 'CAT-3DGS'"}], "mark": {"type": "line", "color": "#78c99b", "strokeWidth": 1.8}, "encoding": {"order": {"field": "k", "type": "quantitative"}}},
   {"data": {"name": "main"}, "transform": [{"filter": "datum.method == 'HAC'"}], "mark": {"type": "line", "color": "#ffcc00", "strokeWidth": 1.8}, "encoding": {"order": {"field": "k", "type": "quantitative"}}},
   {"data": {"name": "main"}, "transform": [{"filter": "datum.method == 'CAT-3DGS'"}], "mark": {"type": "point", "shape": "circle", "filled": true, "size": 64, "color": "#78c99b", "opacity": 1}},
   {"data": {"name": "main"}, "transform": [{"filter": "datum.method == 'HAC'"}], "mark": {"type": "point", "shape": "diamond", "filled": true, "size": 130, "color": "#ffcc00", "opacity": 1}}
  ]},
 {"width": 314, "height": 253,
  "encoding": {
   "x": {"field": "fps", "type": "quantitative", "scale": {"type": "log", "domain": [45.1, 632], "nice": false}, "axis": {"title": "FPS", "values": [50,60,70,80,90,100,200,300,400,500,600], "labelExpr": "datum.value == 100 ? '10²' : ''", "tickSize": {"condition": {"test": "abs(log(datum.value)/LN10 - round(log(datum.value)/LN10)) < 0.001", "value": 6.5}, "value": 3.5}, "gridOpacity": {"condition": {"test": "abs(log(datum.value)/LN10 - round(log(datum.value)/LN10)) < 0.001", "value": 1}, "value": 0}}},
   "y": {"field": "ssim", "type": "quantitative", "scale": {"domain": [0.78542, 0.84878], "nice": false, "zero": false}, "axis": {"values": [0.80, 0.82, 0.84], "format": ".2f", "title": "SSIM"}}
  },
  "layer": [
   {"data": {"name": "notes"}, "transform": [{"filter": "datum.p == 'r3c2' && datum.part != 'text'"}], "mark": {"type": "line", "color": "#808080", "strokeWidth": 1.2}, "encoding": {}},
   {"data": {"name": "notes"}, "transform": [{"filter": "datum.p == 'r3c2' && datum.part == 'head'"}], "mark": {"type": "point", "shape": "M0,0L-0.75,2.25L0.75,2.25Z", "size": 64, "filled": true, "color": "#808080", "opacity": 1, "angle": 39}},
   {"data": {"name": "notes"}, "transform": [{"filter": "datum.p == 'r3c2' && datum.part == 'text'"}], "mark": {"type": "text", "font": "DejaVu Sans", "fontSize": 15.3, "color": "#808080"}, "encoding": {"text": {"field": "label"}}},
   {"data": {"name": "main"}, "transform": [{"filter": "datum.method != 'CAT-3DGS' && datum.method != 'HAC'"}], "mark": {"type": "point", "filled": true, "size": 160, "strokeWidth": 1, "opacity": 1},
    "encoding": {
     "color": {"field": "method", "type": "nominal", "scale": {"domain": ["CAT-3DGS","HAC","3DGS","C3DGS","Compact 3DGS","PUP-3DGS","Speedy Splat","Trimming the fat","LightGaussian","MesonGS","ChimeraGS"], "range": ["#78c99b","#ffcc00","#1c2a78","#33509f","#3a63b0","#41c3e9","#7cbf98","#b6d234","#ffcc00","#ea6330","#ee1c24"]},
      "legend": {"title": null, "orient": "none", "legendX": -75, "legendY": -79, "columns": 6, "symbolSize": 169, "symbolOffset": 9.5, "labelOffset": 26, "columnPadding": 44, "rowPadding": 8, "padding": 6, "labelFont": "DejaVu Sans", "labelFontSize": 19.4, "labelColor": "#000000", "labelLimit": 300, "strokeColor": "#cccccc", "cornerRadius": 5, "fillColor": "#ffffff", "encode": {"symbols": {"update": {"strokeWidth": {"signal": "(datum.value == 'CAT-3DGS' || datum.value == 'HAC') ? 2 : 1"}, "opacity": {"value": 1}}}}}},
     "shape": {"field": "method", "type": "nominal", "scale": {"domain": ["CAT-3DGS","HAC","3DGS","C3DGS","Compact 3DGS","PUP-3DGS","Speedy Splat","Trimming the fat","LightGaussian","MesonGS","ChimeraGS"], "range": ["M-3.1,0L3.1,0M-0.6,0A0.6,0.6,0,1,0,0.6,0A0.6,0.6,0,1,0,-0.6,0Z","M-3.1,0L3.1,0M0,-0.8L0.8,0L0,0.8L-0.8,0Z","circle","M-0.9,-0.9L0.9,-0.9L0.9,0.9L-0.9,0.9Z","M0,-0.9L0.95,0.9L-0.95,0.9Z","M0,-1.15L1.15,0L0,1.15L-1.15,0Z","M0,0.9L0.95,-0.9L-0.95,-0.9Z","M0,-1.05L0.999,-0.324L0.617,0.849L-0.617,0.849L-0.999,-0.324Z","M-0.9,0L0.9,-0.95L0.9,0.95Z","M0.9,0L-0.9,-0.95L-0.9,0.95Z","M0,-1.05L0.909,-0.525L0.909,0.525L0,1.05L-0.909,0.525L-0.909,-0.525Z"]}, "legend": {"title": null}},
     "stroke": {"field": "method", "type": "nominal", "scale": {"domain": ["CAT-3DGS","HAC","3DGS","C3DGS","Compact 3DGS","PUP-3DGS","Speedy Splat","Trimming the fat","LightGaussian","MesonGS","ChimeraGS"], "range": ["#78c99b","#ffcc00","#808080","#808080","#808080","#808080","#808080","#808080","#808080","#808080","#808080"]}, "legend": {"title": null}}
    }},
   {"data": {"name": "main"}, "transform": [{"filter": "datum.method == 'CAT-3DGS'"}], "mark": {"type": "line", "color": "#78c99b", "strokeWidth": 1.8}, "encoding": {"order": {"field": "k", "type": "quantitative"}}},
   {"data": {"name": "main"}, "transform": [{"filter": "datum.method == 'HAC'"}], "mark": {"type": "line", "color": "#ffcc00", "strokeWidth": 1.8}, "encoding": {"order": {"field": "k", "type": "quantitative"}}},
   {"data": {"name": "main"}, "transform": [{"filter": "datum.method == 'CAT-3DGS'"}], "mark": {"type": "point", "shape": "circle", "filled": true, "size": 64, "color": "#78c99b", "opacity": 1}},
   {"data": {"name": "main"}, "transform": [{"filter": "datum.method == 'HAC'"}], "mark": {"type": "point", "shape": "diamond", "filled": true, "size": 130, "color": "#ffcc00", "opacity": 1}}
  ]},
 {"width": 314, "height": 253,
  "encoding": {
   "x": {"field": "fps", "type": "quantitative", "scale": {"type": "log", "domain": [45.1, 632], "nice": false}, "axis": {"title": "FPS", "values": [50,60,70,80,90,100,200,300,400,500,600], "labelExpr": "datum.value == 100 ? '10²' : ''", "tickSize": {"condition": {"test": "abs(log(datum.value)/LN10 - round(log(datum.value)/LN10)) < 0.001", "value": 6.5}, "value": 3.5}, "gridOpacity": {"condition": {"test": "abs(log(datum.value)/LN10 - round(log(datum.value)/LN10)) < 0.001", "value": 1}, "value": 0}}},
   "y": {"field": "lpips", "type": "quantitative", "scale": {"domain": [0.24273, 0.35878], "nice": false, "zero": false}, "axis": {"values": [0.26, 0.28, 0.30, 0.32, 0.34], "format": ".2f", "title": "LPIPS"}}
  },
  "layer": [
   {"data": {"name": "notes"}, "transform": [{"filter": "datum.p == 'r3c3' && datum.part != 'text'"}], "mark": {"type": "line", "color": "#808080", "strokeWidth": 1.2}, "encoding": {}},
   {"data": {"name": "notes"}, "transform": [{"filter": "datum.p == 'r3c3' && datum.part == 'head'"}], "mark": {"type": "point", "shape": "M0,0L-0.75,2.25L0.75,2.25Z", "size": 64, "filled": true, "color": "#808080", "opacity": 1, "angle": 131.5}},
   {"data": {"name": "notes"}, "transform": [{"filter": "datum.p == 'r3c3' && datum.part == 'text'"}], "mark": {"type": "text", "font": "DejaVu Sans", "fontSize": 15.3, "color": "#808080"}, "encoding": {"text": {"field": "label"}}},
   {"data": {"name": "main"}, "transform": [{"filter": "datum.method != 'CAT-3DGS' && datum.method != 'HAC'"}], "mark": {"type": "point", "filled": true, "size": 160, "strokeWidth": 1, "opacity": 1},
    "encoding": {
     "color": {"field": "method", "type": "nominal", "scale": {"domain": ["CAT-3DGS","HAC","3DGS","C3DGS","Compact 3DGS","PUP-3DGS","Speedy Splat","Trimming the fat","LightGaussian","MesonGS","ChimeraGS"], "range": ["#78c99b","#ffcc00","#1c2a78","#33509f","#3a63b0","#41c3e9","#7cbf98","#b6d234","#ffcc00","#ea6330","#ee1c24"]},
      "legend": {"title": null, "orient": "none", "legendX": -75, "legendY": -79, "columns": 6, "symbolSize": 169, "symbolOffset": 9.5, "labelOffset": 26, "columnPadding": 44, "rowPadding": 8, "padding": 6, "labelFont": "DejaVu Sans", "labelFontSize": 19.4, "labelColor": "#000000", "labelLimit": 300, "strokeColor": "#cccccc", "cornerRadius": 5, "fillColor": "#ffffff", "encode": {"symbols": {"update": {"strokeWidth": {"signal": "(datum.value == 'CAT-3DGS' || datum.value == 'HAC') ? 2 : 1"}, "opacity": {"value": 1}}}}}},
     "shape": {"field": "method", "type": "nominal", "scale": {"domain": ["CAT-3DGS","HAC","3DGS","C3DGS","Compact 3DGS","PUP-3DGS","Speedy Splat","Trimming the fat","LightGaussian","MesonGS","ChimeraGS"], "range": ["M-3.1,0L3.1,0M-0.6,0A0.6,0.6,0,1,0,0.6,0A0.6,0.6,0,1,0,-0.6,0Z","M-3.1,0L3.1,0M0,-0.8L0.8,0L0,0.8L-0.8,0Z","circle","M-0.9,-0.9L0.9,-0.9L0.9,0.9L-0.9,0.9Z","M0,-0.9L0.95,0.9L-0.95,0.9Z","M0,-1.15L1.15,0L0,1.15L-1.15,0Z","M0,0.9L0.95,-0.9L-0.95,-0.9Z","M0,-1.05L0.999,-0.324L0.617,0.849L-0.617,0.849L-0.999,-0.324Z","M-0.9,0L0.9,-0.95L0.9,0.95Z","M0.9,0L-0.9,-0.95L-0.9,0.95Z","M0,-1.05L0.909,-0.525L0.909,0.525L0,1.05L-0.909,0.525L-0.909,-0.525Z"]}, "legend": {"title": null}},
     "stroke": {"field": "method", "type": "nominal", "scale": {"domain": ["CAT-3DGS","HAC","3DGS","C3DGS","Compact 3DGS","PUP-3DGS","Speedy Splat","Trimming the fat","LightGaussian","MesonGS","ChimeraGS"], "range": ["#78c99b","#ffcc00","#808080","#808080","#808080","#808080","#808080","#808080","#808080","#808080","#808080"]}, "legend": {"title": null}}
    }},
   {"data": {"name": "main"}, "transform": [{"filter": "datum.method == 'CAT-3DGS'"}], "mark": {"type": "line", "color": "#78c99b", "strokeWidth": 1.8}, "encoding": {"order": {"field": "k", "type": "quantitative"}}},
   {"data": {"name": "main"}, "transform": [{"filter": "datum.method == 'HAC'"}], "mark": {"type": "line", "color": "#ffcc00", "strokeWidth": 1.8}, "encoding": {"order": {"field": "k", "type": "quantitative"}}},
   {"data": {"name": "main"}, "transform": [{"filter": "datum.method == 'CAT-3DGS'"}], "mark": {"type": "point", "shape": "circle", "filled": true, "size": 64, "color": "#78c99b", "opacity": 1}},
   {"data": {"name": "main"}, "transform": [{"filter": "datum.method == 'HAC'"}], "mark": {"type": "point", "shape": "diamond", "filled": true, "size": 130, "color": "#ffcc00", "opacity": 1}}
  ]},
 {"width": 314, "height": 253,
  "encoding": {
   "x": {"field": "mem", "type": "quantitative", "scale": {"type": "log", "domain": [284, 3698], "nice": false}, "axis": {"title": "Peak Memory (MB)", "values": [300,400,500,600,700,800,900,1000,2000,3000], "labelExpr": "datum.value == 1000 ? '10³' : ''", "tickSize": {"condition": {"test": "abs(log(datum.value)/LN10 - round(log(datum.value)/LN10)) < 0.001", "value": 6.5}, "value": 3.5}, "gridOpacity": {"condition": {"test": "abs(log(datum.value)/LN10 - round(log(datum.value)/LN10)) < 0.001", "value": 1}, "value": 0}}},
   "y": {"field": "psnr", "type": "quantitative", "scale": {"domain": [23.091, 25.269], "nice": false, "zero": false}, "axis": {"values": [23.5, 24, 24.5, 25], "format": ".1f", "title": "PSNR [dB]"}}
  },
  "layer": [
   {"data": {"name": "notes"}, "transform": [{"filter": "datum.p == 'r4c1' && datum.part != 'text'"}], "mark": {"type": "line", "color": "#808080", "strokeWidth": 1.2}, "encoding": {}},
   {"data": {"name": "notes"}, "transform": [{"filter": "datum.p == 'r4c1' && datum.part == 'head'"}], "mark": {"type": "point", "shape": "M0,0L-0.75,2.25L0.75,2.25Z", "size": 64, "filled": true, "color": "#808080", "opacity": 1, "angle": -49}},
   {"data": {"name": "notes"}, "transform": [{"filter": "datum.p == 'r4c1' && datum.part == 'text'"}], "mark": {"type": "text", "font": "DejaVu Sans", "fontSize": 15.3, "color": "#808080"}, "encoding": {"text": {"field": "label"}}},
   {"data": {"name": "main"}, "transform": [{"filter": "datum.method != 'CAT-3DGS' && datum.method != 'HAC'"}], "mark": {"type": "point", "filled": true, "size": 160, "strokeWidth": 1, "opacity": 1},
    "encoding": {
     "color": {"field": "method", "type": "nominal", "scale": {"domain": ["CAT-3DGS","HAC","3DGS","C3DGS","Compact 3DGS","PUP-3DGS","Speedy Splat","Trimming the fat","LightGaussian","MesonGS","ChimeraGS"], "range": ["#78c99b","#ffcc00","#1c2a78","#33509f","#3a63b0","#41c3e9","#7cbf98","#b6d234","#ffcc00","#ea6330","#ee1c24"]},
      "legend": {"title": null, "orient": "none", "legendX": -75, "legendY": -79, "columns": 6, "symbolSize": 169, "symbolOffset": 9.5, "labelOffset": 26, "columnPadding": 44, "rowPadding": 8, "padding": 6, "labelFont": "DejaVu Sans", "labelFontSize": 19.4, "labelColor": "#000000", "labelLimit": 300, "strokeColor": "#cccccc", "cornerRadius": 5, "fillColor": "#ffffff", "encode": {"symbols": {"update": {"strokeWidth": {"signal": "(datum.value == 'CAT-3DGS' || datum.value == 'HAC') ? 2 : 1"}, "opacity": {"value": 1}}}}}},
     "shape": {"field": "method", "type": "nominal", "scale": {"domain": ["CAT-3DGS","HAC","3DGS","C3DGS","Compact 3DGS","PUP-3DGS","Speedy Splat","Trimming the fat","LightGaussian","MesonGS","ChimeraGS"], "range": ["M-3.1,0L3.1,0M-0.6,0A0.6,0.6,0,1,0,0.6,0A0.6,0.6,0,1,0,-0.6,0Z","M-3.1,0L3.1,0M0,-0.8L0.8,0L0,0.8L-0.8,0Z","circle","M-0.9,-0.9L0.9,-0.9L0.9,0.9L-0.9,0.9Z","M0,-0.9L0.95,0.9L-0.95,0.9Z","M0,-1.15L1.15,0L0,1.15L-1.15,0Z","M0,0.9L0.95,-0.9L-0.95,-0.9Z","M0,-1.05L0.999,-0.324L0.617,0.849L-0.617,0.849L-0.999,-0.324Z","M-0.9,0L0.9,-0.95L0.9,0.95Z","M0.9,0L-0.9,-0.95L-0.9,0.95Z","M0,-1.05L0.909,-0.525L0.909,0.525L0,1.05L-0.909,0.525L-0.909,-0.525Z"]}, "legend": {"title": null}},
     "stroke": {"field": "method", "type": "nominal", "scale": {"domain": ["CAT-3DGS","HAC","3DGS","C3DGS","Compact 3DGS","PUP-3DGS","Speedy Splat","Trimming the fat","LightGaussian","MesonGS","ChimeraGS"], "range": ["#78c99b","#ffcc00","#808080","#808080","#808080","#808080","#808080","#808080","#808080","#808080","#808080"]}, "legend": {"title": null}}
    }},
   {"data": {"name": "main"}, "transform": [{"filter": "datum.method == 'CAT-3DGS'"}], "mark": {"type": "line", "color": "#78c99b", "strokeWidth": 1.8}, "encoding": {"order": {"field": "k", "type": "quantitative"}}},
   {"data": {"name": "main"}, "transform": [{"filter": "datum.method == 'HAC'"}], "mark": {"type": "line", "color": "#ffcc00", "strokeWidth": 1.8}, "encoding": {"order": {"field": "k", "type": "quantitative"}}},
   {"data": {"name": "main"}, "transform": [{"filter": "datum.method == 'CAT-3DGS'"}], "mark": {"type": "point", "shape": "circle", "filled": true, "size": 64, "color": "#78c99b", "opacity": 1}},
   {"data": {"name": "main"}, "transform": [{"filter": "datum.method == 'HAC'"}], "mark": {"type": "point", "shape": "diamond", "filled": true, "size": 130, "color": "#ffcc00", "opacity": 1}}
  ]},
 {"width": 314, "height": 253,
  "encoding": {
   "x": {"field": "mem", "type": "quantitative", "scale": {"type": "log", "domain": [284, 3698], "nice": false}, "axis": {"title": "Peak Memory (MB)", "values": [300,400,500,600,700,800,900,1000,2000,3000], "labelExpr": "datum.value == 1000 ? '10³' : ''", "tickSize": {"condition": {"test": "abs(log(datum.value)/LN10 - round(log(datum.value)/LN10)) < 0.001", "value": 6.5}, "value": 3.5}, "gridOpacity": {"condition": {"test": "abs(log(datum.value)/LN10 - round(log(datum.value)/LN10)) < 0.001", "value": 1}, "value": 0}}},
   "y": {"field": "ssim", "type": "quantitative", "scale": {"domain": [0.78542, 0.84878], "nice": false, "zero": false}, "axis": {"values": [0.80, 0.82, 0.84], "format": ".2f", "title": "SSIM"}}
  },
  "layer": [
   {"data": {"name": "notes"}, "transform": [{"filter": "datum.p == 'r4c2' && datum.part != 'text'"}], "mark": {"type": "line", "color": "#808080", "strokeWidth": 1.2}, "encoding": {}},
   {"data": {"name": "notes"}, "transform": [{"filter": "datum.p == 'r4c2' && datum.part == 'head'"}], "mark": {"type": "point", "shape": "M0,0L-0.75,2.25L0.75,2.25Z", "size": 64, "filled": true, "color": "#808080", "opacity": 1, "angle": -42}},
   {"data": {"name": "notes"}, "transform": [{"filter": "datum.p == 'r4c2' && datum.part == 'text'"}], "mark": {"type": "text", "font": "DejaVu Sans", "fontSize": 15.3, "color": "#808080"}, "encoding": {"text": {"field": "label"}}},
   {"data": {"name": "main"}, "transform": [{"filter": "datum.method != 'CAT-3DGS' && datum.method != 'HAC'"}], "mark": {"type": "point", "filled": true, "size": 160, "strokeWidth": 1, "opacity": 1},
    "encoding": {
     "color": {"field": "method", "type": "nominal", "scale": {"domain": ["CAT-3DGS","HAC","3DGS","C3DGS","Compact 3DGS","PUP-3DGS","Speedy Splat","Trimming the fat","LightGaussian","MesonGS","ChimeraGS"], "range": ["#78c99b","#ffcc00","#1c2a78","#33509f","#3a63b0","#41c3e9","#7cbf98","#b6d234","#ffcc00","#ea6330","#ee1c24"]},
      "legend": {"title": null, "orient": "none", "legendX": -75, "legendY": -79, "columns": 6, "symbolSize": 169, "symbolOffset": 9.5, "labelOffset": 26, "columnPadding": 44, "rowPadding": 8, "padding": 6, "labelFont": "DejaVu Sans", "labelFontSize": 19.4, "labelColor": "#000000", "labelLimit": 300, "strokeColor": "#cccccc", "cornerRadius": 5, "fillColor": "#ffffff", "encode": {"symbols": {"update": {"strokeWidth": {"signal": "(datum.value == 'CAT-3DGS' || datum.value == 'HAC') ? 2 : 1"}, "opacity": {"value": 1}}}}}},
     "shape": {"field": "method", "type": "nominal", "scale": {"domain": ["CAT-3DGS","HAC","3DGS","C3DGS","Compact 3DGS","PUP-3DGS","Speedy Splat","Trimming the fat","LightGaussian","MesonGS","ChimeraGS"], "range": ["M-3.1,0L3.1,0M-0.6,0A0.6,0.6,0,1,0,0.6,0A0.6,0.6,0,1,0,-0.6,0Z","M-3.1,0L3.1,0M0,-0.8L0.8,0L0,0.8L-0.8,0Z","circle","M-0.9,-0.9L0.9,-0.9L0.9,0.9L-0.9,0.9Z","M0,-0.9L0.95,0.9L-0.95,0.9Z","M0,-1.15L1.15,0L0,1.15L-1.15,0Z","M0,0.9L0.95,-0.9L-0.95,-0.9Z","M0,-1.05L0.999,-0.324L0.617,0.849L-0.617,0.849L-0.999,-0.324Z","M-0.9,0L0.9,-0.95L0.9,0.95Z","M0.9,0L-0.9,-0.95L-0.9,0.95Z","M0,-1.05L0.909,-0.525L0.909,0.525L0,1.05L-0.909,0.525L-0.909,-0.525Z"]}, "legend": {"title": null}},
     "stroke": {"field": "method", "type": "nominal", "scale": {"domain": ["CAT-3DGS","HAC","3DGS","C3DGS","Compact 3DGS","PUP-3DGS","Speedy Splat","Trimming the fat","LightGaussian","MesonGS","ChimeraGS"], "range": ["#78c99b","#ffcc00","#808080","#808080","#808080","#808080","#808080","#808080","#808080","#808080","#808080"]}, "legend": {"title": null}}
    }},
   {"data": {"name": "main"}, "transform": [{"filter": "datum.method == 'CAT-3DGS'"}], "mark": {"type": "line", "color": "#78c99b", "strokeWidth": 1.8}, "encoding": {"order": {"field": "k", "type": "quantitative"}}},
   {"data": {"name": "main"}, "transform": [{"filter": "datum.method == 'HAC'"}], "mark": {"type": "line", "color": "#ffcc00", "strokeWidth": 1.8}, "encoding": {"order": {"field": "k", "type": "quantitative"}}},
   {"data": {"name": "main"}, "transform": [{"filter": "datum.method == 'CAT-3DGS'"}], "mark": {"type": "point", "shape": "circle", "filled": true, "size": 64, "color": "#78c99b", "opacity": 1}},
   {"data": {"name": "main"}, "transform": [{"filter": "datum.method == 'HAC'"}], "mark": {"type": "point", "shape": "diamond", "filled": true, "size": 130, "color": "#ffcc00", "opacity": 1}}
  ]},
 {"width": 314, "height": 253,
  "encoding": {
   "x": {"field": "mem", "type": "quantitative", "scale": {"type": "log", "domain": [284, 3698], "nice": false}, "axis": {"title": "Peak Memory (MB)", "values": [300,400,500,600,700,800,900,1000,2000,3000], "labelExpr": "datum.value == 1000 ? '10³' : ''", "tickSize": {"condition": {"test": "abs(log(datum.value)/LN10 - round(log(datum.value)/LN10)) < 0.001", "value": 6.5}, "value": 3.5}, "gridOpacity": {"condition": {"test": "abs(log(datum.value)/LN10 - round(log(datum.value)/LN10)) < 0.001", "value": 1}, "value": 0}}},
   "y": {"field": "lpips", "type": "quantitative", "scale": {"domain": [0.24273, 0.35878], "nice": false, "zero": false}, "axis": {"values": [0.26, 0.28, 0.30, 0.32, 0.34], "format": ".2f", "title": "LPIPS"}}
  },
  "layer": [
   {"data": {"name": "notes"}, "transform": [{"filter": "datum.p == 'r4c3' && datum.part != 'text'"}], "mark": {"type": "line", "color": "#808080", "strokeWidth": 1.2}, "encoding": {}},
   {"data": {"name": "notes"}, "transform": [{"filter": "datum.p == 'r4c3' && datum.part == 'head'"}], "mark": {"type": "point", "shape": "M0,0L-0.75,2.25L0.75,2.25Z", "size": 64, "filled": true, "color": "#808080", "opacity": 1, "angle": 232}},
   {"data": {"name": "notes"}, "transform": [{"filter": "datum.p == 'r4c3' && datum.part == 'text'"}], "mark": {"type": "text", "font": "DejaVu Sans", "fontSize": 15.3, "color": "#808080"}, "encoding": {"text": {"field": "label"}}},
   {"data": {"name": "main"}, "transform": [{"filter": "datum.method != 'CAT-3DGS' && datum.method != 'HAC'"}], "mark": {"type": "point", "filled": true, "size": 160, "strokeWidth": 1, "opacity": 1},
    "encoding": {
     "color": {"field": "method", "type": "nominal", "scale": {"domain": ["CAT-3DGS","HAC","3DGS","C3DGS","Compact 3DGS","PUP-3DGS","Speedy Splat","Trimming the fat","LightGaussian","MesonGS","ChimeraGS"], "range": ["#78c99b","#ffcc00","#1c2a78","#33509f","#3a63b0","#41c3e9","#7cbf98","#b6d234","#ffcc00","#ea6330","#ee1c24"]},
      "legend": {"title": null, "orient": "none", "legendX": -75, "legendY": -79, "columns": 6, "symbolSize": 169, "symbolOffset": 9.5, "labelOffset": 26, "columnPadding": 44, "rowPadding": 8, "padding": 6, "labelFont": "DejaVu Sans", "labelFontSize": 19.4, "labelColor": "#000000", "labelLimit": 300, "strokeColor": "#cccccc", "cornerRadius": 5, "fillColor": "#ffffff", "encode": {"symbols": {"update": {"strokeWidth": {"signal": "(datum.value == 'CAT-3DGS' || datum.value == 'HAC') ? 2 : 1"}, "opacity": {"value": 1}}}}}},
     "shape": {"field": "method", "type": "nominal", "scale": {"domain": ["CAT-3DGS","HAC","3DGS","C3DGS","Compact 3DGS","PUP-3DGS","Speedy Splat","Trimming the fat","LightGaussian","MesonGS","ChimeraGS"], "range": ["M-3.1,0L3.1,0M-0.6,0A0.6,0.6,0,1,0,0.6,0A0.6,0.6,0,1,0,-0.6,0Z","M-3.1,0L3.1,0M0,-0.8L0.8,0L0,0.8L-0.8,0Z","circle","M-0.9,-0.9L0.9,-0.9L0.9,0.9L-0.9,0.9Z","M0,-0.9L0.95,0.9L-0.95,0.9Z","M0,-1.15L1.15,0L0,1.15L-1.15,0Z","M0,0.9L0.95,-0.9L-0.95,-0.9Z","M0,-1.05L0.999,-0.324L0.617,0.849L-0.617,0.849L-0.999,-0.324Z","M-0.9,0L0.9,-0.95L0.9,0.95Z","M0.9,0L-0.9,-0.95L-0.9,0.95Z","M0,-1.05L0.909,-0.525L0.909,0.525L0,1.05L-0.909,0.525L-0.909,-0.525Z"]}, "legend": {"title": null}},
     "stroke": {"field": "method", "type": "nominal", "scale": {"domain": ["CAT-3DGS","HAC","3DGS","C3DGS","Compact 3DGS","PUP-3DGS","Speedy Splat","Trimming the fat","LightGaussian","MesonGS","ChimeraGS"], "range": ["#78c99b","#ffcc00","#808080","#808080","#808080","#808080","#808080","#808080","#808080","#808080","#808080"]}, "legend": {"title": null}}
    }},
   {"data": {"name": "main"}, "transform": [{"filter": "datum.method == 'CAT-3DGS'"}], "mark": {"type": "line", "color": "#78c99b", "strokeWidth": 1.8}, "encoding": {"order": {"field": "k", "type": "quantitative"}}},
   {"data": {"name": "main"}, "transform": [{"filter": "datum.method == 'HAC'"}], "mark": {"type": "line", "color": "#ffcc00", "strokeWidth": 1.8}, "encoding": {"order": {"field": "k", "type": "quantitative"}}},
   {"data": {"name": "main"}, "transform": [{"filter": "datum.method == 'CAT-3DGS'"}], "mark": {"type": "point", "shape": "circle", "filled": true, "size": 64, "color": "#78c99b", "opacity": 1}},
   {"data": {"name": "main"}, "transform": [{"filter": "datum.method == 'HAC'"}], "mark": {"type": "point", "shape": "diamond", "filled": true, "size": 130, "color": "#ffcc00", "opacity": 1}}
  ]}
]
}
